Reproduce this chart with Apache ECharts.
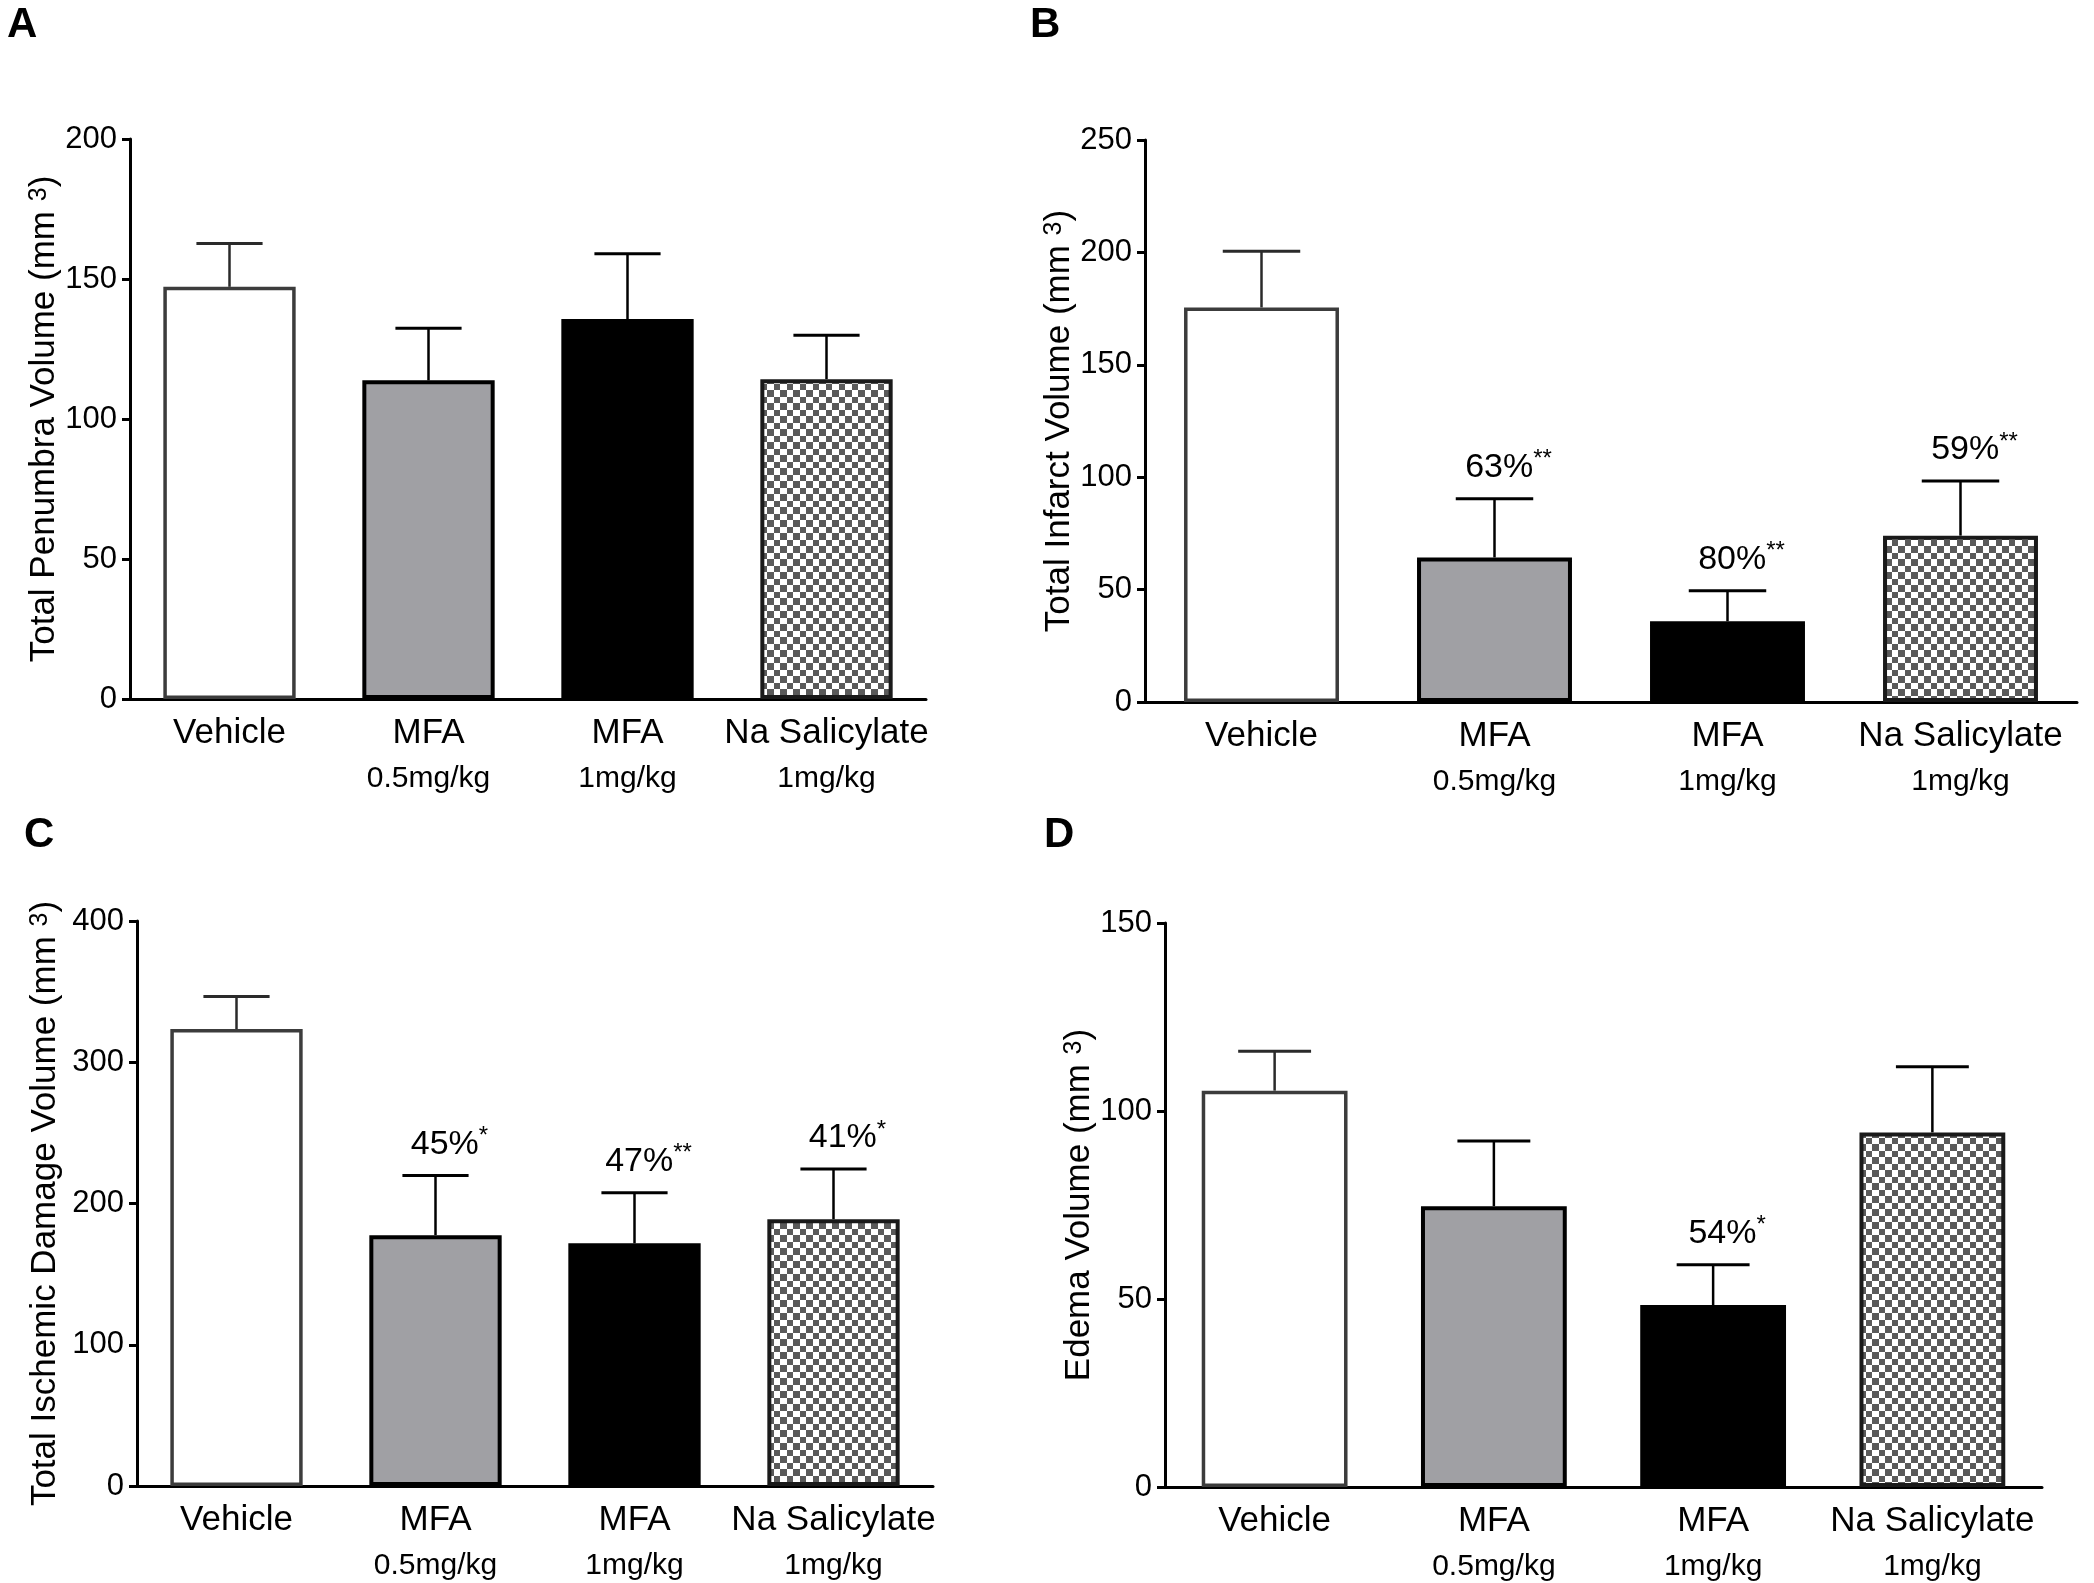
<!DOCTYPE html>
<html>
<head>
<meta charset="utf-8">
<script src="https://cdn.jsdelivr.net/npm/echarts@6/dist/echarts.min.js"></script>
<style>
  html, body { margin: 0; padding: 0; background: #fff; }
  #chart { width: 2094px; height: 1583px; }
</style>
</head>
<body>
<div id="chart"></div>
<script>
var categories = ['Vehicle', 'MFA\n0.5mg/kg', 'MFA\n1mg/kg', 'Na Salicylate\n1mg/kg'];

// panel A - penumbra
var penumbraMean = [147.2, 113.8, 135.7, 114.2];
var penumbraSem = [15.5, 18.6, 23.3, 15.7];
var penumbraPct = ['', '', '', ''];
var penumbraStars = ['', '', '', ''];

// panel B - infarct
var infarctMean = [175.5, 64.3, 35.9, 74.0];
var infarctSem = [25.0, 26.1, 13.6, 24.3];
var infarctPct = ['', '63%', '80%', '59%'];
var infarctStars = ['', '**', '**', '**'];

// panel C - total ischemic damage
var ischemicMean = [323.5, 177.6, 171.8, 188.8];
var ischemicSem = [23.1, 42.3, 35.8, 35.7];
var ischemicPct = ['', '45%', '47%', '41%'];
var ischemicStars = ['', '*', '**', '*'];

// panel D - edema
var edemaMean = [105.4, 74.7, 48.4, 94.3];
var edemaSem = [10.5, 17.3, 10.7, 17.5];
var edemaPct = ['', '', '54%', ''];
var edemaStars = ['', '', '*', ''];

var FONT = '"Liberation Sans", Arial, Helvetica, sans-serif';

// checker pattern for Na Salicylate bars
var checker = document.createElement('canvas');
checker.width = 13; checker.height = 13;
var cx = checker.getContext('2d');
cx.fillStyle = '#fff'; cx.fillRect(0, 0, 13, 13);
cx.fillStyle = '#5a5a5a';
cx.fillRect(0, 0, 7, 7);
cx.fillRect(7, 7, 6, 6);

var barStyles = [
  { color: '#fff', borderColor: '#3c3c3c', borderWidth: 3.5 },
  { color: '#a0a0a4', borderColor: '#000', borderWidth: 4 },
  { color: '#000', borderColor: '#000', borderWidth: 4 },
  { color: { image: checker, repeat: 'repeat' }, borderColor: '#1a1a1a', borderWidth: 4 }
];

var panels = [
  { mean: penumbraMean, sem: penumbraSem, pct: penumbraPct, stars: penumbraStars, max: 200, interval: 50,
    name: 'Total Penumbra Volume (mm {s|3})', grid: { left: 130, top: 139, width: 796, height: 560 }, gap: 66 },
  { mean: infarctMean, sem: infarctSem, pct: infarctPct, stars: infarctStars, max: 250, interval: 50,
    name: 'Total Infarct Volume (mm {s|3})', grid: { left: 1145, top: 140, width: 932, height: 562 }, gap: 66 },
  { mean: ischemicMean, sem: ischemicSem, pct: ischemicPct, stars: ischemicStars, max: 400, interval: 100,
    name: 'Total Ischemic Damage Volume (mm {s|3})', grid: { left: 137, top: 921, width: 796, height: 565 }, gap: 74 },
  { mean: edemaMean, sem: edemaSem, pct: edemaPct, stars: edemaStars, max: 150, interval: 50,
    name: 'Edema Volume (mm {s|3})', grid: { left: 1165, top: 923, width: 877, height: 564 }, gap: 67 }
];

var grids = [], xAxes = [], yAxes = [], series = [];

panels.forEach(function (p, k) {
  grids.push(p.grid);
  xAxes.push({
    type: 'category', gridIndex: k, data: categories,
    axisLine: { lineStyle: { color: '#000', width: 3 } },
    axisTick: { show: false },
    axisLabel: {
      margin: 12, interval: 0,
      formatter: function (v) {
        var parts = v.split('\n');
        return parts.length > 1 ? '{a|' + parts[0] + '}\n{b|' + parts[1] + '}' : '{a|' + parts[0] + '}';
      },
      rich: {
        a: { fontSize: 35, fontFamily: FONT, color: '#000', lineHeight: 45 },
        b: { fontSize: 30, fontFamily: FONT, color: '#000', lineHeight: 45 }
      }
    }
  });
  yAxes.push({
    type: 'value', gridIndex: k, min: 0, max: p.max, interval: p.interval,
    name: p.name, nameLocation: 'middle', nameGap: p.gap,
    nameTextStyle: {
      fontSize: 35, fontFamily: FONT, color: '#000',
      rich: { s: { fontSize: 25, fontFamily: FONT, color: '#000', verticalAlign: 'top' } }
    },
    axisLine: { show: true, lineStyle: { color: '#000', width: 3 } },
    axisTick: { show: true, length: 8, lineStyle: { color: '#000', width: 3 } },
    axisLabel: { fontSize: 31, fontFamily: FONT, color: '#000', margin: 13 },
    splitLine: { show: false }
  });
  series.push({
    type: 'bar', xAxisIndex: k, yAxisIndex: k, barWidth: '66.5%', z: 3,
    data: p.mean.map(function (v, i) { return { value: v, itemStyle: barStyles[i] }; })
  });
  series.push({
    type: 'custom', xAxisIndex: k, yAxisIndex: k, z: 2,
    data: p.mean.map(function (v, i) { return [i, v, v + p.sem[i]]; }),
    renderItem: function (params, api) {
      var i = api.value(0);
      var base = api.coord([i, api.value(1)]);
      var top = api.coord([i, api.value(2)]);
      var half = api.size([1, 0])[0] * 0.665 * 0.25;
      var col = i === 0 ? '#2a2a2a' : '#000';
      var children = [
        { type: 'line', shape: { x1: base[0], y1: base[1], x2: top[0], y2: top[1] },
          style: { stroke: col, lineWidth: 2.5 } },
        { type: 'line', shape: { x1: top[0] - half, y1: top[1], x2: top[0] + half, y2: top[1] },
          style: { stroke: col, lineWidth: 3 } }
      ];
      var pct = p.pct[i];
      if (pct) {
        children.push({
          type: 'text', z2: 10,
          style: {
            x: top[0] + 14, y: top[1] - 11,
            text: '{p|' + pct + '}{s|' + p.stars[i] + '}',
            align: 'center', verticalAlign: 'bottom',
            rich: {
              p: { fontSize: 34, fontFamily: FONT, fill: '#000', lineHeight: 40 },
              s: { fontSize: 24, fontFamily: FONT, fill: '#000', verticalAlign: 'top' }
            }
          }
        });
      }
      return { type: 'group', children: children };
    }
  });
});

var letters = [['A', 7, 4], ['B', 1030, 4], ['C', 24, 814], ['D', 1044, 814]];

var chart = echarts.init(document.getElementById('chart'), null, { renderer: 'canvas' });
chart.setOption({
  backgroundColor: '#fff',
  animation: false,
  grid: grids,
  xAxis: xAxes,
  yAxis: yAxes,
  series: series,
  graphic: letters.map(function (l) {
    return { type: 'text', left: l[1], top: l[2],
      style: { text: l[0], fontSize: 42, fontWeight: 'bold', fontFamily: FONT, fill: '#000' } };
  })
});
</script>
</body>
</html>
